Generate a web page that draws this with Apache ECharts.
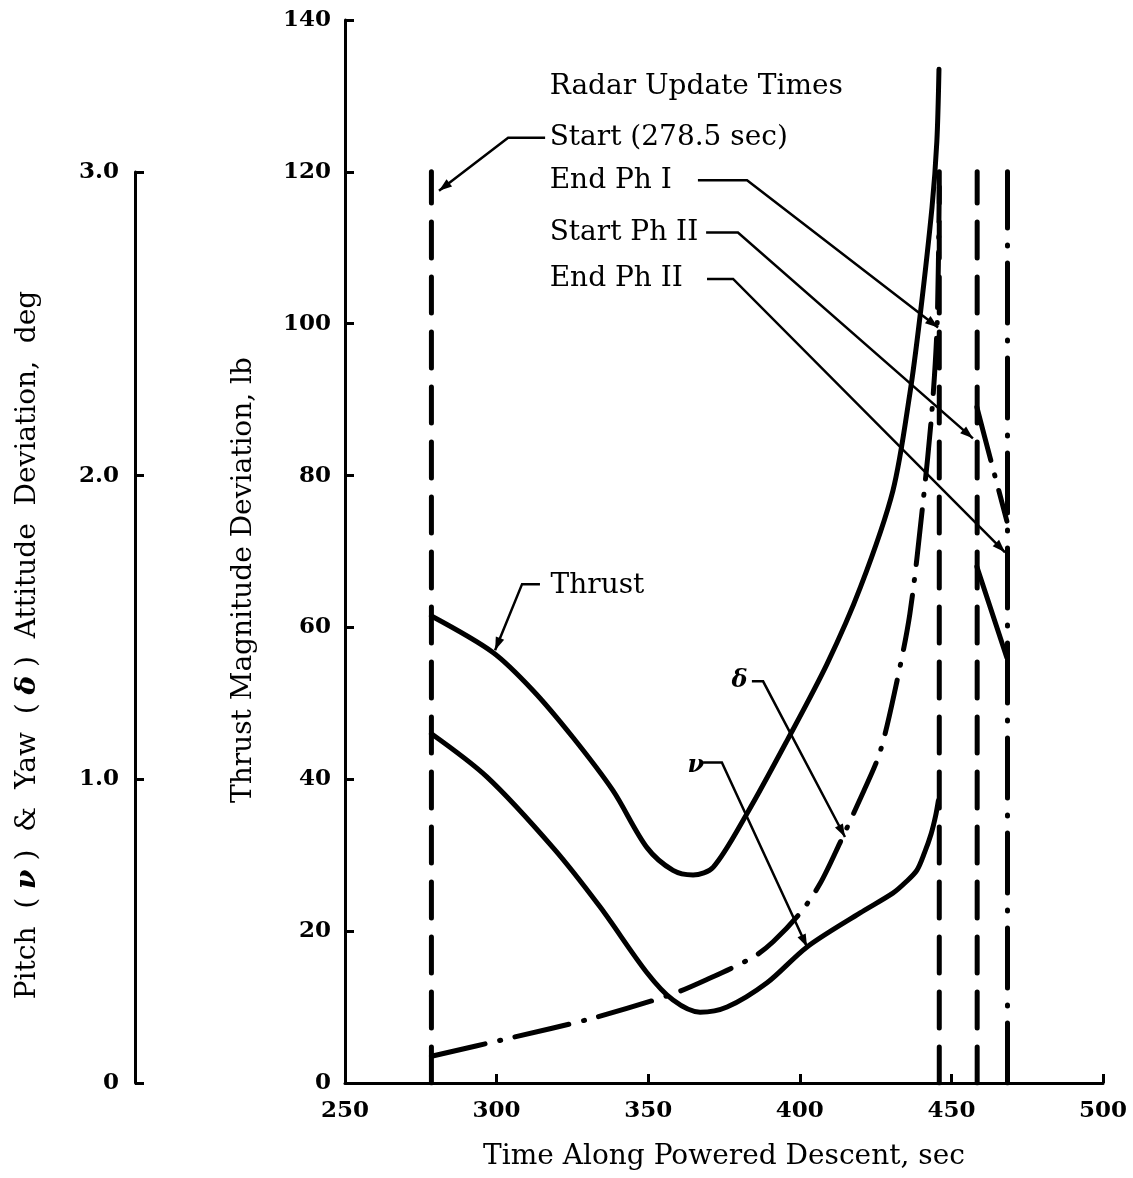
<!DOCTYPE html>
<html>
<head>
<meta charset="utf-8">
<script src="https://cdn.jsdelivr.net/npm/echarts@6/dist/echarts.min.js"></script>
<style>
  html, body { margin: 0; background: #fff; }
  #chart { width: 1133px; height: 1178px; }
</style>
</head>
<body>
<div id="chart"></div>
<script>
// thrust magnitude deviation, lb (phase I)
const thrustTime = [278.5, 298.8, 312, 325.2, 338.4, 349.6, 358.2, 364.8, 371.4, 382.6, 395.8, 409, 420, 430.7, 436.3, 439.6, 443.6, 445.2, 445.9];
const thrustLb   = [61.5, 56.7, 51.7, 45.5, 38.5, 31, 28, 27.4, 28.4, 35.5, 45.1, 55.2, 65.3, 78, 90.8, 100.8, 115.3, 124, 133.5];
// solid segment after start of phase II, lb
const thrustPh2Time = [458.4, 468.3];
const thrustPh2Lb   = [68, 56];
// pitch (nu), deg
const pitchTime = [278.5, 296.8, 318.6, 334.1, 349.6, 358.2, 367.1, 376, 389.2, 402.4, 419.9, 430.7, 434.8, 438.6, 441.2, 443.3, 444.8, 445.7];
const pitchDeg  = [1.15, 1.008, 0.775, 0.58, 0.363, 0.273, 0.233, 0.25, 0.33, 0.448, 0.56, 0.625, 0.66, 0.7, 0.76, 0.82, 0.88, 0.93];
// yaw (delta), deg
const yawTime = [278.5, 304.4, 331.5, 357.2, 369.2, 384.7, 391.2, 400, 406.6, 413.2, 420.8, 426.4, 431.4, 436.3, 440.6, 443.6, 445.3, 446];
const yawDeg  = [0.088, 0.148, 0.213, 0.29, 0.34, 0.415, 0.465, 0.558, 0.655, 0.79, 0.955, 1.088, 1.293, 1.545, 1.908, 2.215, 2.5, 2.95];
const yawPh2Time = [458.4, 463, 468.3];
const yawPh2Deg  = [2.225, 2.05, 1.85];
// radar update times, sec
const updateNames = ['Start', 'End Ph I', 'Start Ph II', 'End Ph II'];
const updateTimes = [278.5, 446, 458.5, 468.5];
const updateTop = 120;
// axis ticks
const xTicks = [250, 300, 350, 400, 450, 500];
const thrustTicks = [0, 20, 40, 60, 80, 100, 120, 140];
const degTicks = [0, 1, 2, 3];

const FONT = 'DejaVu Serif';
const INK = '#000';

const zip = (a, b) => a.map((v, i) => [v, b[i]]);

const chart = echarts.init(document.getElementById('chart'));

const curve = (name, data, yIdx, type) => ({
  name, type: 'line', data, xAxisIndex: 0, yAxisIndex: yIdx,
  smooth: 0.3, showSymbol: false, silent: true,
  lineStyle: { color: INK, width: 5, type: type || 'solid', cap: 'round', join: 'round' }
});

// round caps add the line width to every dash, so gaps are set wider
const dashDot = [55, 15, 1, 15];

const updSeries = updateTimes.map((t, i) => ({
  name: updateNames[i], type: 'line', xAxisIndex: 0, yAxisIndex: 0,
  data: [[t, 0], [t, updateTop]], showSymbol: false, silent: true,
  lineStyle: { color: INK, width: 5, type: i === 3 ? [60, 17, 1, 17] : [36, 19], cap: 'round' }
}));

const axisCommon = {
  axisLine: { show: true, lineStyle: { color: INK, width: 3 } },
  axisTick: { show: true, inside: true, length: 9, lineStyle: { color: INK, width: 3 } },
  splitLine: { show: false },
  axisLabel: { color: INK, fontFamily: FONT, fontSize: 23, fontWeight: 'bold' },
  nameTextStyle: { color: INK, fontFamily: FONT, fontSize: 28 }
};

chart.setOption({
  backgroundColor: '#fff',
  animation: false,
  grid: [
    { left: 345, right: 30, top: 20, bottom: 95 },
    { left: 135, width: 1, top: 172, bottom: 95 }
  ],
  xAxis: [
    {
      ...axisCommon, type: 'value', gridIndex: 0,
      min: xTicks[0], max: xTicks[xTicks.length - 1], interval: 50,
      axisLabel: { ...axisCommon.axisLabel, margin: 17 },
      name: 'Time Along Powered Descent, sec', nameLocation: 'middle', nameGap: 60
    },
    { type: 'value', gridIndex: 1, show: false, min: 0, max: 1 }
  ],
  yAxis: [
    {
      ...axisCommon, type: 'value', gridIndex: 0,
      min: thrustTicks[0], max: thrustTicks[thrustTicks.length - 1], interval: 20,
      axisLabel: { ...axisCommon.axisLabel, margin: 14 }
    },
    // pitch/yaw scale in the main plot: 3.5 deg spans the same height as 140 lb
    { type: 'value', gridIndex: 0, show: false, min: 0, max: 3.5 },
    {
      ...axisCommon, type: 'value', gridIndex: 1,
      min: degTicks[0], max: degTicks[degTicks.length - 1], interval: 1,
      axisLabel: {
        ...axisCommon.axisLabel, margin: 16,
        formatter: v => (v === 0 ? '0' : v.toFixed(1))
      }
    }
  ],
  series: [
    curve('Thrust', zip(thrustTime, thrustLb), 0),
    curve('Thrust Ph II', zip(thrustPh2Time, thrustPh2Lb), 0),
    curve('ν', zip(pitchTime, pitchDeg), 1),
    curve('δ', zip(yawTime, yawDeg), 1, dashDot),
    curve('δ Ph II', zip(yawPh2Time, yawPh2Deg), 1, dashDot),
    ...updSeries,
    { type: 'line', xAxisIndex: 1, yAxisIndex: 2, data: [], silent: true }
  ]
});

// annotations, in data units of the thrust axis
const labels = [
  { text: 'Radar Update Times', at: [317.5, 131.2] },
  { text: 'Start (278.5 sec)', at: [317.5, 124.5] },
  { text: 'End Ph I', at: [317.5, 118.8] },
  { text: 'Start Ph II', at: [317.5, 112] },
  { text: 'End Ph II', at: [317.5, 105.9] },
  { text: 'Thrust', at: [317.8, 65.5] },
  { text: 'δ', at: [377.5, 53], italic: true, size: 24 },
  { text: 'ν', at: [363, 41.8], italic: true, size: 24 }
];
const leaders = [
  [[316, 124.5], [303.8, 124.5], [281, 117.5]],
  [[366.4, 118.9], [382.6, 118.9], [445.6, 99.5]],
  [[369.1, 112], [379.6, 112], [457.1, 84.9]],
  [[369.4, 105.9], [378, 105.9], [467.7, 69.9]],
  [[314.3, 65.7], [308.4, 65.7], [299.5, 57]],
  [[384.2, 52.9], [387.9, 52.9], [414.9, 32.4]],
  [[368.1, 42.2], [374.3, 42.2], [402.4, 17.9]]
];

const px = p => chart.convertToPixel({ xAxisIndex: 0, yAxisIndex: 0 }, p);
const graphics = [];

// rotated axis titles
const titleStyle = t => ({
  text: t, fill: INK, font: '28px "' + FONT + '"', align: 'center', verticalAlign: 'middle',
  rich: { g: { fontFamily: FONT, fontSize: 28, fontWeight: 'bold', fontStyle: 'italic', fill: INK } }
});
graphics.push({ type: 'text', x: 244, y: 580, rotation: Math.PI / 2, silent: true,
  style: titleStyle('Thrust Magnitude Deviation, lb') });
graphics.push({ type: 'text', x: 28, y: 645, rotation: Math.PI / 2, silent: true,
  style: titleStyle('Pitch  ( {g|ν} )  &  Yaw  ( {g|δ} )  Attitude  Deviation,  deg') });

labels.forEach(l => {
  const [x, y] = px(l.at);
  graphics.push({
    type: 'text', x, y, silent: true,
    style: {
      text: l.text, fill: INK,
      font: (l.italic ? 'italic bold ' : '') + (l.size || 28) + 'px "' + FONT + '"',
      verticalAlign: 'middle'
    }
  });
});
leaders.forEach(path => {
  const pts = path.map(px);
  graphics.push({
    type: 'polyline', silent: true, shape: { points: pts },
    style: { stroke: INK, lineWidth: 2.5, fill: null }
  });
  const [a, b] = [pts[pts.length - 2], pts[pts.length - 1]];
  const ang = Math.atan2(b[1] - a[1], b[0] - a[0]);
  const L = 13, W = 4.5;
  const bx = b[0] - L * Math.cos(ang), by = b[1] - L * Math.sin(ang);
  graphics.push({
    type: 'polygon', silent: true,
    shape: { points: [b, [bx - W * Math.sin(ang), by + W * Math.cos(ang)], [bx + W * Math.sin(ang), by - W * Math.cos(ang)]] },
    style: { fill: INK }
  });
});
chart.setOption({ graphic: graphics });
</script>
</body>
</html>
